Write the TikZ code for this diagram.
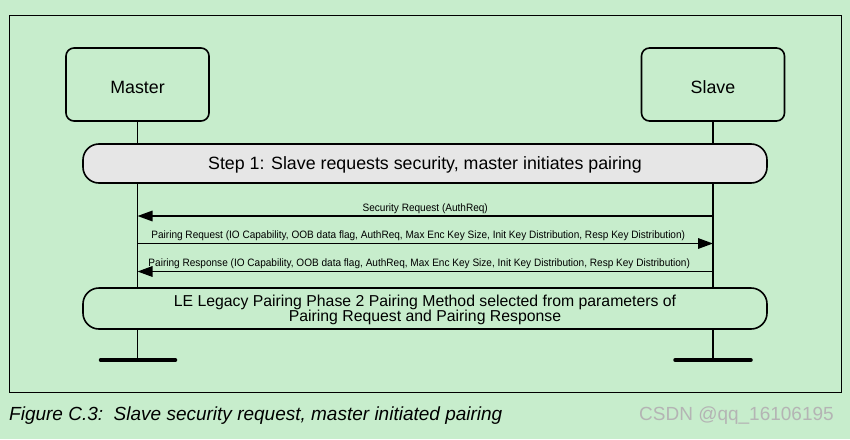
\documentclass[tikz,border=0pt]{standalone}
\usepackage{fontspec}
\setmainfont{Liberation Sans}
\newfontfamily\narrowfont[FakeStretch=0.94]{Liberation Sans}
\usetikzlibrary{arrows.meta}
\definecolor{bg}{HTML}{C7EDCC}
\definecolor{stepgray}{HTML}{E6E6E6}
\definecolor{wmgray}{HTML}{B4B4B4}
\begin{document}
\begin{tikzpicture}[x=1pt,y=-1pt,
  actor/.style={draw, line width=1.6pt, rounded corners=8pt, fill=bg,
    minimum width=143pt, minimum height=73pt, inner sep=0pt,
    text height=17.3pt, text depth=0pt,
    font=\fontsize{17.8}{20}\selectfont},
  phasebox/.style={draw, line width=1.6pt, rounded corners=16pt,
    minimum width=684pt, inner sep=0pt, align=center},
  lifeline/.style={line width=1.5pt},
  endbar/.style={line width=3.5pt, line cap=round},
  msg/.style={line width=1.6pt, -{Triangle[length=15pt,width=10.5pt]}},
  msglabel/.style={font=\narrowfont\fontsize{10.7}{12}\selectfont, anchor=south, inner sep=1.5pt}
]
\useasboundingbox (0,0) rectangle (850,439);
\fill[bg] (0,0) rectangle (850,439);
\draw[line width=1pt] (9,15) rectangle (841,392);

% actors
\node[actor] (master) at (137.5,84.5) {Master};
\node[actor] (slave) at (713,84.5) {Slave};
\coordinate (mend) at (137.5,360);
\coordinate (send) at (713,360);

% lifelines (drawn before the boxes that cover them)
\draw[lifeline] (master.south) -- (mend);
\draw[lifeline] (slave.south) -- (send);

% phase boxes
\node[phasebox, fill=stepgray, minimum height=39pt, text height=12.8pt, text depth=0pt,
  font=\fontsize{17.8}{20}\selectfont]
  (step1) at (425,163.5) {Step 1: Slave requests security, master initiates pairing};
\node[phasebox, fill=bg, minimum height=41pt, font=\fontsize{15.8}{15}\selectfont]
  (phase2) at (425,308.5) {\rule{0pt}{14pt}LE Legacy Pairing Phase 2 Pairing Method selected from parameters of\\Pairing Request and Pairing Response};

% messages
\draw[msg] (slave |- 0,216) -- (master |- 0,216)
  node[msglabel, midway] {Security Request (AuthReq)};
\draw[msg] (master |- 0,243.5) -- (slave |- 0,243.5)
  node[msglabel, midway, xshift=-7pt] {Pairing Request (IO Capability, OOB data flag, AuthReq, Max Enc Key Size, Init Key Distribution, Resp Key Distribution)};
\draw[msg] (slave |- 0,271.5) -- (master |- 0,271.5)
  node[msglabel, midway, xshift=-6pt] {Pairing Response (IO Capability, OOB data flag, AuthReq, Max Enc Key Size, Init Key Distribution, Resp Key Distribution)};

% end bars
\draw[endbar] ([xshift=-37pt]mend) -- ([xshift=38pt]mend);
\draw[endbar] ([xshift=-38pt]send) -- ([xshift=38pt]send);

% caption and watermark
\node[anchor=base west, inner sep=0pt, font=\itshape\fontsize{19}{22}\selectfont] (caption) at (9,420)
  {Figure C.3:\ \ Slave security request, master initiated pairing};
\node[anchor=base east, inner sep=0pt, text=wmgray, font=\fontsize{19}{22}\selectfont] (wm) at (834,420)
  {CSDN @qq\_16106195};
\end{tikzpicture}
\end{document}
